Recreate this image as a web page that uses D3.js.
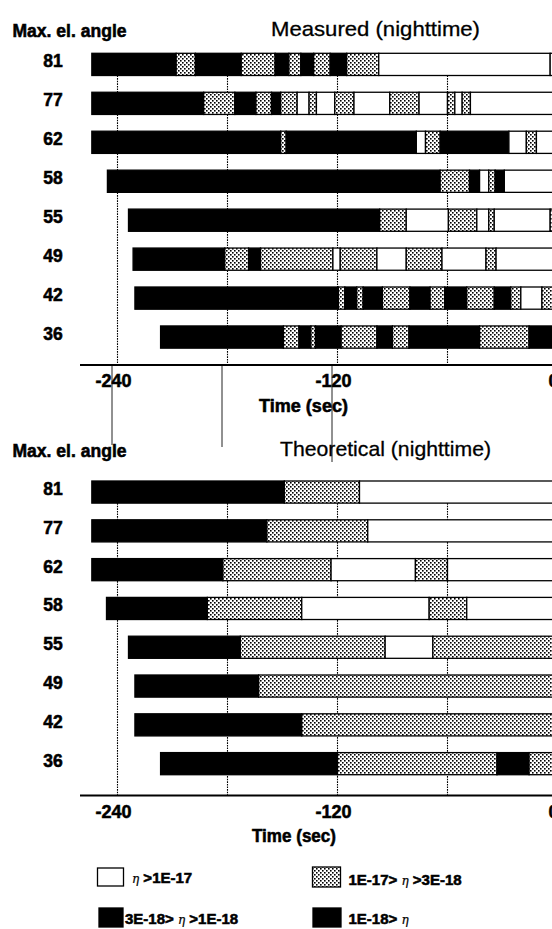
<!DOCTYPE html>
<html>
<head>
<meta charset="utf-8">
<script src="https://cdn.jsdelivr.net/npm/d3@7"></script>
<style>
  html, body { margin: 0; padding: 0; background: #fff; overflow: hidden; }
  svg { display: block; }
  text { font-family: "Liberation Sans", Arial, Helvetica, sans-serif; fill: #000; }
  .heavy { stroke: #000; stroke-width: 0.55px; }
</style>
</head>
<body>
<svg id="chart" width="552" height="929"></svg>
<script>
// Maximum elevation angle of each pass (one bar per pass)
const elevations = [81, 77, 62, 58, 55, 49, 42, 36];

// Axis ticks and grid (time to closest approach, seconds)
const tickLabels = [-240, -120, 0];
const gridTimes = [-240, -180, -120, -60];

// Level codes: W = eta > 1E-17, S = 1E-17 > eta > 3E-18,
// D = 3E-18 > eta > 1E-18, B = 1E-18 > eta
// Each pass: start time, then runs of [level, end time]
const measuredStart = [-254, -254, -254, -245.5, -234, -231.5, -230.5, -216.5];
const measuredRuns = [
  [["B",-208],["S",-197.5],["B",-172.5],["S",-154],["B",-146.5],["S",-140],["B",-133],["S",-124],["B",-115],["S",-97.5],["W",-4],["W",10]],
  [["B",-193],["S",-176],["B",-164.5],["S",-156],["B",-151],["S",-142],["W",-135.5],["S",-131.5],["W",-121.5],["S",-111],["W",-91.5],["S",-75.5],["W",-60],["S",-56],["W",-52],["S",-47.5],["W",10]],
  [["B",-151],["S",-148],["B",-77],["W",-72],["S",-64],["B",-26.5],["W",-17],["S",-11.5],["W",10]],
  [["B",-64],["S",-48],["B",-42.5],["W",-37.5],["S",-34],["B",-29],["W",10]],
  [["B",-97],["S",-82.5],["W",-59.5],["S",-44],["W",-37.5],["S",-34.5],["W",-4],["S",10]],
  [["B",-181.5],["S",-168.5],["B",-162],["S",-122.5],["W",-118.5],["S",-98.5],["W",-82.5],["S",-63],["W",-39],["S",-33.5],["W",10]],
  [["B",-119.5],["S",-116],["B",-109.5],["S",-106],["B",-95.5],["S",-80.5],["B",-69.5],["S",-61.5],["B",-49.5],["S",-34.5],["B",-25.5],["S",-20],["W",-8.5],["S",10]],
  [["B",-149.5],["S",-141],["B",-134.5],["S",-132],["B",-118],["S",-98.5],["B",-90],["S",-81],["B",-42.5],["S",-15.5],["B",10]]
];

const theoreticalStart = [-254, -254, -254, -246, -234, -230.5, -230.5, -216.5];
const theoreticalRuns = [
  [["B",-149],["S",-108],["W",10]],
  [["B",-158.5],["S",-103.5],["W",10]],
  [["B",-182.5],["S",-123.5],["W",-77.5],["S",-60],["W",10]],
  [["B",-191],["S",-139.5],["W",-70],["S",-49.5],["W",10]],
  [["B",-173],["S",-94],["W",-68],["S",10]],
  [["B",-163],["S",10]],
  [["B",-139.5],["S",10]],
  [["B",-120],["S",-33],["B",-15.5],["S",10]]
];

// Legend entries: text before eta, eta, text after
const legendKeys = ["W", "S", "D", "B"];
const legendBefore = ["", "1E-17> ", "3E-18> ", "1E-18> "];
const legendAfter = [" >1E-17", " >3E-18", " >1E-18", ""];

// Thin vertical connector lines between the two panels
const connectorTimes = [-243, -183, -123];
const connectorEnds = [445, 447, 462];

const svg = d3.select("#chart");
const defs = svg.append("defs");

// fine dot screen for the middle level
const pat = defs.append("pattern")
  .attr("id", "stipple")
  .attr("patternUnits", "userSpaceOnUse")
  .attr("width", 4).attr("height", 4);
pat.append("rect").attr("width", 4).attr("height", 4).attr("fill", "#fff");
pat.append("rect").attr("x", 0).attr("y", 0).attr("width", 1.6).attr("height", 1.6).attr("fill", "#000");
pat.append("rect").attr("x", 2).attr("y", 2).attr("width", 1.6).attr("height", 1.6).attr("fill", "#000");

const fillFor = { W: "#fff", S: "url(#stipple)", D: "#000", B: "#000" };

const x = d3.scaleLinear().domain([-240, 0]).range([117.5, 557.5]);

function panel(opts) {
  const { title, titleX, titleLen, headY, top, bottom, axisY, timeX, timeLen, starts, runs } = opts;
  const g = svg.append("g");

  const y = d3.scaleBand()
    .domain(elevations)
    .range([top, bottom])
    .paddingInner(0.43)
    .paddingOuter(0);

  // dotted grid
  const firstBottom = y(elevations[0]) + y.bandwidth();
  g.append("g").selectAll("line")
    .data(gridTimes)
    .join("line")
    .attr("x1", d => x(d)).attr("x2", d => x(d))
    .attr("y1", firstBottom).attr("y2", axisY)
    .attr("stroke", "#000")
    .attr("stroke-width", 1.1)
    .attr("stroke-dasharray", "1.6,1");

  // bars
  elevations.forEach((el, i) => {
    let t0 = starts[i];
    const segs = runs[i].map(([lvl, t1]) => {
      const s = { lvl, t0, t1 };
      t0 = t1;
      return s;
    });
    g.append("g").selectAll("rect")
      .data(segs)
      .join("rect")
      .attr("x", d => x(d.t0))
      .attr("width", d => x(d.t1) - x(d.t0))
      .attr("y", y(el))
      .attr("height", y.bandwidth())
      .attr("fill", d => fillFor[d.lvl])
      .attr("stroke", "#000")
      .attr("stroke-width", 1.3);

    g.append("text")
      .attr("class", "heavy")
      .attr("x", 53)
      .attr("y", y(el) + y.bandwidth() / 2 + 3)
      .attr("text-anchor", "middle")
      .attr("font-size", 17.5)
      .attr("font-weight", "bold")
      .text(el);
  });

  // axis line
  g.append("line")
    .attr("x1", 80).attr("x2", 560)
    .attr("y1", axisY).attr("y2", axisY)
    .attr("stroke", "#000").attr("stroke-width", 2.2);

  const axis = d3.axisBottom(x)
    .tickValues(tickLabels)
    .tickSize(0)
    .tickFormat(d => String(d));
  const ax = g.append("g").attr("transform", `translate(0,${axisY})`).call(axis);
  ax.select(".domain").remove();
  ax.selectAll("text")
    .attr("class", "heavy")
    .attr("y", 22).attr("dy", null).attr("dx", -4.5)
    .attr("font-size", 18).attr("font-weight", "bold")
    .attr("font-family", "Liberation Sans, Arial, sans-serif")
    .attr("fill", "#000");

  g.append("text")
    .attr("class", "heavy")
    .attr("x", timeX).attr("y", axisY + 46.5)
    .attr("font-size", 17.5).attr("font-weight", "bold")
    .attr("textLength", timeLen).attr("lengthAdjust", "spacingAndGlyphs")
    .text("Time (sec)");

  g.append("text")
    .attr("class", "heavy")
    .attr("x", 12.5).attr("y", headY + 1)
    .attr("font-size", 17.5).attr("font-weight", "bold")
    .attr("textLength", 114).attr("lengthAdjust", "spacingAndGlyphs")
    .text("Max. el. angle");

  g.append("text")
    .attr("x", titleX).attr("y", headY)
    .attr("font-size", 21)
    .attr("stroke", "#000").attr("stroke-width", 0.3)
    .attr("textLength", titleLen).attr("lengthAdjust", "spacingAndGlyphs")
    .text(title);
}

// connector lines (drawn under everything else)
svg.append("g").selectAll("line")
  .data(connectorTimes)
  .join("line")
  .attr("x1", d => x(d)).attr("x2", d => x(d))
  .attr("y1", 365)
  .attr("y2", (d, i) => connectorEnds[i])
  .attr("stroke", "#222")
  .attr("stroke-width", 1);

panel({
  title: "Measured (nighttime)", titleX: 271, titleLen: 209, headY: 36,
  top: 53.3, bottom: 53.3 + 38.95 * 7.57, axisY: 365,
  timeX: 259, timeLen: 89,
  starts: measuredStart, runs: measuredRuns
});

panel({
  title: "Theoretical (nighttime)", titleX: 280, titleLen: 211, headY: 456,
  top: 481, bottom: 481 + 38.8 * 7.57, axisY: 795.5,
  timeX: 252, timeLen: 84,
  starts: theoreticalStart, runs: theoreticalRuns
});

// legend
const legendPos = [
  { bx: 97.5, by: 868, bw: 26, bh: 18, tx: 132, ty: 883 },
  { bx: 312.5, by: 867, bw: 28, bh: 20, tx: 348.5, ty: 885 },
  { bx: 99, by: 908, bw: 24, bh: 19, tx: 125, ty: 924 },
  { bx: 313, by: 908, bw: 28, bh: 19, tx: 348.5, ty: 924 }
];
const lg = svg.append("g");
legendKeys.forEach((k, i) => {
  const p = legendPos[i];
  lg.append("rect")
    .attr("x", p.bx).attr("y", p.by)
    .attr("width", p.bw).attr("height", p.bh)
    .attr("fill", fillFor[k])
    .attr("stroke", "#000").attr("stroke-width", 1.3);
  const t = lg.append("text")
    .attr("class", "heavy")
    .attr("x", p.tx).attr("y", p.ty)
    .attr("font-size", 15).attr("font-weight", "bold");
  if (legendBefore[i]) t.append("tspan").text(legendBefore[i]);
  t.append("tspan")
    .attr("font-family", "DejaVu Serif, serif")
    .attr("font-style", "italic")
    .attr("font-weight", "normal")
    .attr("stroke-width", 0.2)
    .attr("font-size", 12)
    .text("η");
  if (legendAfter[i]) t.append("tspan").text(legendAfter[i]);
});
</script>
</body>
</html>
